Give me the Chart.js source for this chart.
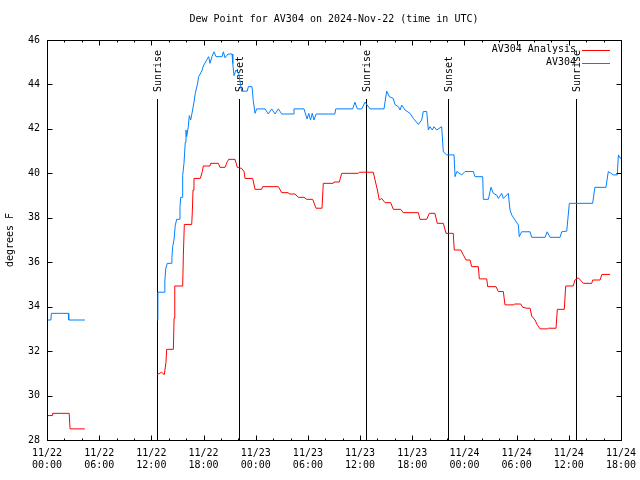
<!DOCTYPE html>
<html>
<head>
<meta charset="utf-8">
<script src="https://cdn.jsdelivr.net/npm/chart.js@4.4.1/dist/chart.umd.min.js"></script>
<style>
  html, body { margin: 0; padding: 0; background: #fff; }
  #wrap { width: 640px; height: 480px; }
</style>
</head>
<body>
<div id="wrap"><canvas id="dewChart" width="640" height="480"></canvas></div>
<script>
// hours since 11/22 00:00 UTC, dew point in F
const analysisEarly = [[0,29.1],[0.6,29.1],[0.65,29.2],[2.55,29.2],[2.65,28.5],[4.35,28.5]];
const analysisLate = [
  [12.68,30.94],[13.18,31.05],[13.49,30.94],[13.68,31.5],[13.76,32.08],[14.53,32.08],[14.61,33.48],[14.69,34.93],
  [15.6,34.93],[15.68,36.33],[15.79,37.7],[16.64,37.7],[16.71,38.27],[16.79,39.25],[16.9,39.77],[17.63,39.77],
  [17.86,40.08],[17.97,40.33],[18.74,40.33],[18.82,40.45],[19.7,40.45],[19.89,40.27],[20.47,40.27],[20.73,40.52],
  [20.89,40.63],[21.62,40.63],[21.88,40.27],[22.39,40.22],[22.66,40.08],[22.77,39.77],[23.65,39.77],[23.92,39.28],
  [24.68,39.28],[24.8,39.4],[26.6,39.4],[26.99,39.13],[27.75,39.13],[27.86,39.07],[28.52,39.07],[28.9,38.92],
  [29.55,38.92],[29.86,38.83],[30.55,38.83],[30.93,38.43],[31.62,38.43],[31.77,39.55],[32.92,39.55],[33.0,39.61],
  [33.61,39.61],[33.89,40.0],[35.8,40.0],[35.91,40.05],[37.52,40.05],[37.72,39.7],[37.99,39.25],[38.21,38.8],
  [38.49,38.87],[38.87,38.68],[39.52,38.68],[39.82,38.38],[40.67,38.38],[40.97,38.23],[42.7,38.23],[42.89,37.93],
  [43.66,37.93],[43.96,38.2],[44.6,38.2],[44.88,37.75],[45.57,37.75],[45.88,37.3],[46.71,37.3],[46.83,36.55],
  [47.57,36.55],[47.87,36.33],[48.18,36.1],[48.64,36.1],[48.83,35.8],[49.6,35.8],[49.71,35.25],[50.56,35.25],
  [50.67,34.9],[51.63,34.9],[51.9,34.68],[52.47,34.68],[52.66,34.08],[53.6,34.08],[53.8,34.12],[54.47,34.12],
  [54.7,33.97],[55.16,33.93],[55.55,33.93],[55.73,33.58],[56.11,33.4],[56.38,33.18],[56.69,33.0],[57.52,33.0],
  [57.64,33.03],[58.53,33.03],[58.68,33.88],[59.48,33.88],[59.64,34.93],[60.5,34.93],[60.71,35.2],[61.09,35.3],
  [61.67,35.05],[62.63,35.05],[62.75,35.2],[63.6,35.2],[63.8,35.45],[64.74,35.45]
];
const stationEarly = [[0,33.4],[0.45,33.4],[0.5,33.7],[2.45,33.7],[2.5,33.4],[4.35,33.4]];
const stationLate = [
  [12.68,33.4],[12.75,34.65],[13.5,34.65],[13.55,35.15],[13.65,35.7],[13.83,35.95],[14.33,35.95],[14.36,36.2],
  [14.45,36.7],[14.6,37.0],[14.75,37.66],[14.91,37.93],[15.21,37.93],[15.29,38.47],[15.37,38.92],[15.56,38.92],
  [15.6,39.9],[15.75,40.45],[15.9,41.4],[15.98,41.95],[16.06,41.65],[16.25,42.1],[16.36,42.6],[16.52,42.4],
  [16.67,42.7],[16.9,43.2],[17.05,43.6],[17.28,43.98],[17.44,44.35],[17.82,44.62],[17.97,44.83],[18.36,45.1],
  [18.59,45.25],[18.74,44.95],[18.97,45.25],[19.2,45.47],[19.43,45.25],[20.13,45.25],[20.28,45.47],[20.47,45.2],
  [20.82,45.37],[21.28,45.37],[21.36,44.95],[21.5,44.4],[21.73,44.65],[22.04,44.5],[22.38,43.7],[23.03,43.7],
  [23.15,43.9],[23.57,43.9],[23.72,43.27],[23.92,42.7],[24.11,42.9],[25.07,42.9],[25.45,42.67],[25.84,42.9],
  [26.22,42.67],[26.6,42.9],[26.99,42.67],[28.32,42.67],[28.4,42.9],[29.55,42.9],[29.9,42.45],[30.1,42.7],
  [30.3,42.4],[30.5,42.7],[30.7,42.4],[30.95,42.67],[33.1,42.67],[33.2,42.9],[35.14,42.9],[35.41,43.2],
  [35.68,42.9],[36.19,42.9],[36.57,43.2],[37.15,42.9],[38.75,42.9],[39.06,43.7],[39.36,43.45],[39.82,43.37],
  [40.0,43.1],[40.4,43.0],[40.59,42.85],[40.79,43.07],[41.17,42.85],[41.74,42.7],[42.13,42.47],[42.7,42.2],
  [43.08,42.4],[43.27,42.78],[43.66,42.78],[43.85,41.95],[44.04,42.1],[44.3,41.95],[44.5,42.1],[44.8,41.95],
  [45.38,42.1],[45.57,40.97],[45.96,40.83],[46.8,40.83],[46.92,39.85],[47.11,40.08],[47.69,39.93],[48.06,40.08],
  [49.02,40.08],[49.21,39.85],[50.1,39.85],[50.17,38.83],[50.75,38.83],[51.05,39.37],[51.32,39.1],[51.71,39.02],
  [51.9,38.87],[52.28,39.1],[52.47,38.87],[53.04,39.1],[53.24,38.35],[53.43,38.13],[54.2,37.67],[54.3,37.15],
  [54.58,37.37],[55.55,37.37],[55.73,37.12],[57.26,37.12],[57.52,37.37],[57.84,37.12],[58.99,37.12],[59.18,37.37],
  [59.76,37.4],[60.06,38.65],[62.74,38.65],[63.0,39.37],[64.27,39.37],[64.54,40.08],[65.11,39.93],[65.57,39.93],
  [65.7,40.83],[65.9,40.68],[66,40.7]
];

const dayLabels = ['11/22', '11/23', '11/24'];
const sunEventHours = [12.65, 22.08, 36.68, 46.11, 60.83];
const sunEventNames = ['Sunrise', 'Sunset', 'Sunrise', 'Sunset', 'Sunrise'];
const sunLineTop = 43.35;
const chartTitle = 'Dew Point for AV304 on 2024-Nov-22 (time in UTC)';

function toPoints(segments) {
  const out = [];
  segments.forEach((seg, i) => {
    if (i > 0) out.push({ x: seg[0][0] - 0.01, y: null });
    seg.forEach(p => out.push({ x: p[0], y: p[1] }));
  });
  return out;
}

Chart.defaults.font.family = 'DejaVu Sans Mono';
Chart.defaults.font.size = 10;
Chart.defaults.color = '#000';

const gnuplotLook = {
  id: 'gnuplotLook',
  beforeDatasetsDraw(chart) {
    const ctx = chart.ctx, x = chart.scales.x, y = chart.scales.y;
    ctx.save();
    ctx.strokeStyle = '#000';
    ctx.lineWidth = 1;
    ctx.fillStyle = '#000';
    ctx.font = '10px "DejaVu Sans Mono"';
    const yTop = Math.round(y.getPixelForValue(sunLineTop));
    const yBot = Math.round(y.getPixelForValue(28));
    sunEventHours.forEach((h, i) => {
      const px = Math.round(x.getPixelForValue(h)) + 0.5;
      ctx.beginPath();
      ctx.moveTo(px, yBot);
      ctx.lineTo(px, yTop);
      ctx.stroke();
      ctx.save();
      ctx.translate(px + 1, yTop - 7);
      ctx.rotate(-Math.PI / 2);
      ctx.textAlign = 'left';
      ctx.textBaseline = 'middle';
      ctx.fillText(sunEventNames[i], 0, 0);
      ctx.restore();
    });
    ctx.restore();
  },
  afterDraw(chart) {
    const ctx = chart.ctx, a = chart.chartArea, x = chart.scales.x, y = chart.scales.y;
    ctx.save();
    ctx.strokeStyle = '#000';
    ctx.lineWidth = 1;
    const L = Math.round(a.left) + 0.5, R = Math.round(a.right) + 0.5;
    const T = Math.round(a.top) + 0.5, B = Math.round(a.bottom) + 0.5;
    ctx.beginPath();
    x.ticks.forEach(t => {
      const px = Math.round(x.getPixelForValue(t.value)) + 0.5;
      const len = t.value % 6 === 0 ? 5 : 2;
      ctx.moveTo(px, B); ctx.lineTo(px, B - len);
      ctx.moveTo(px, T); ctx.lineTo(px, T + len);
    });
    y.ticks.forEach(t => {
      const py = Math.round(y.getPixelForValue(t.value)) + 0.5;
      ctx.moveTo(L, py); ctx.lineTo(L + 5, py);
      ctx.moveTo(R, py); ctx.lineTo(R - 5, py);
    });
    ctx.stroke();
    ctx.strokeRect(L, T, R - L, B - T);

    ctx.font = '10px "DejaVu Sans Mono"';
    ctx.fillStyle = '#000';
    ctx.textAlign = 'center';
    ctx.textBaseline = 'middle';
    ctx.fillText(chartTitle, (a.left + a.right) / 2, 19);

    // legend, gnuplot style: text right aligned, sample line after it
    ctx.textAlign = 'right';
    chart.data.datasets.forEach((ds, i) => {
      const ly = 49.5 + i * 13;
      ctx.fillStyle = '#000';
      ctx.fillText(ds.label, 576, ly);
      ctx.strokeStyle = ds.borderColor;
      ctx.beginPath();
      ctx.moveTo(582, Math.round(ly) + 0.5);
      ctx.lineTo(610, Math.round(ly) + 0.5);
      ctx.stroke();
    });
    ctx.restore();
  }
};

new Chart(document.getElementById('dewChart'), {
  type: 'line',
  data: {
    datasets: [
      {
        label: 'AV304 Analysis',
        data: toPoints([analysisEarly, analysisLate]),
        borderColor: '#ff0000',
        borderWidth: 1,
        pointRadius: 0,
        fill: false,
        tension: 0
      },
      {
        label: 'AV304',
        data: toPoints([stationEarly, stationLate]),
        borderColor: '#0080ff',
        borderWidth: 1,
        pointRadius: 0,
        fill: false,
        tension: 0
      }
    ]
  },
  options: {
    responsive: false,
    animation: false,
    layout: { padding: { left: 0, right: 19, top: 40, bottom: 0 } },
    plugins: {
      legend: { display: false },
      tooltip: { enabled: false },
      title: { display: false }
    },
    scales: {
      x: {
        type: 'linear',
        min: 0,
        max: 66,
        grid: { display: true, drawOnChartArea: false, drawTicks: false },
        border: { display: false },
        ticks: {
          stepSize: 2,
          autoSkip: false,
          maxRotation: 0,
          padding: 7,
          callback: v => v % 6 === 0
            ? [dayLabels[Math.floor(v / 24)], String(v % 24).padStart(2, '0') + ':00']
            : ''
        },
        afterFit: s => { s.height = 40; s.paddingLeft = 0; s.paddingRight = 0; }
      },
      y: {
        min: 28,
        max: 46,
        grid: { display: true, drawOnChartArea: false, drawTicks: false },
        border: { display: false },
        ticks: { stepSize: 2, padding: 7 },
        title: { display: true, text: 'degrees F', padding: { top: 4, bottom: 0 } },
        afterFit: s => { s.width = 47; s.paddingTop = 0; s.paddingBottom = 0; }
      }
    }
  },
  plugins: [gnuplotLook]
});
</script>
</body>
</html>
